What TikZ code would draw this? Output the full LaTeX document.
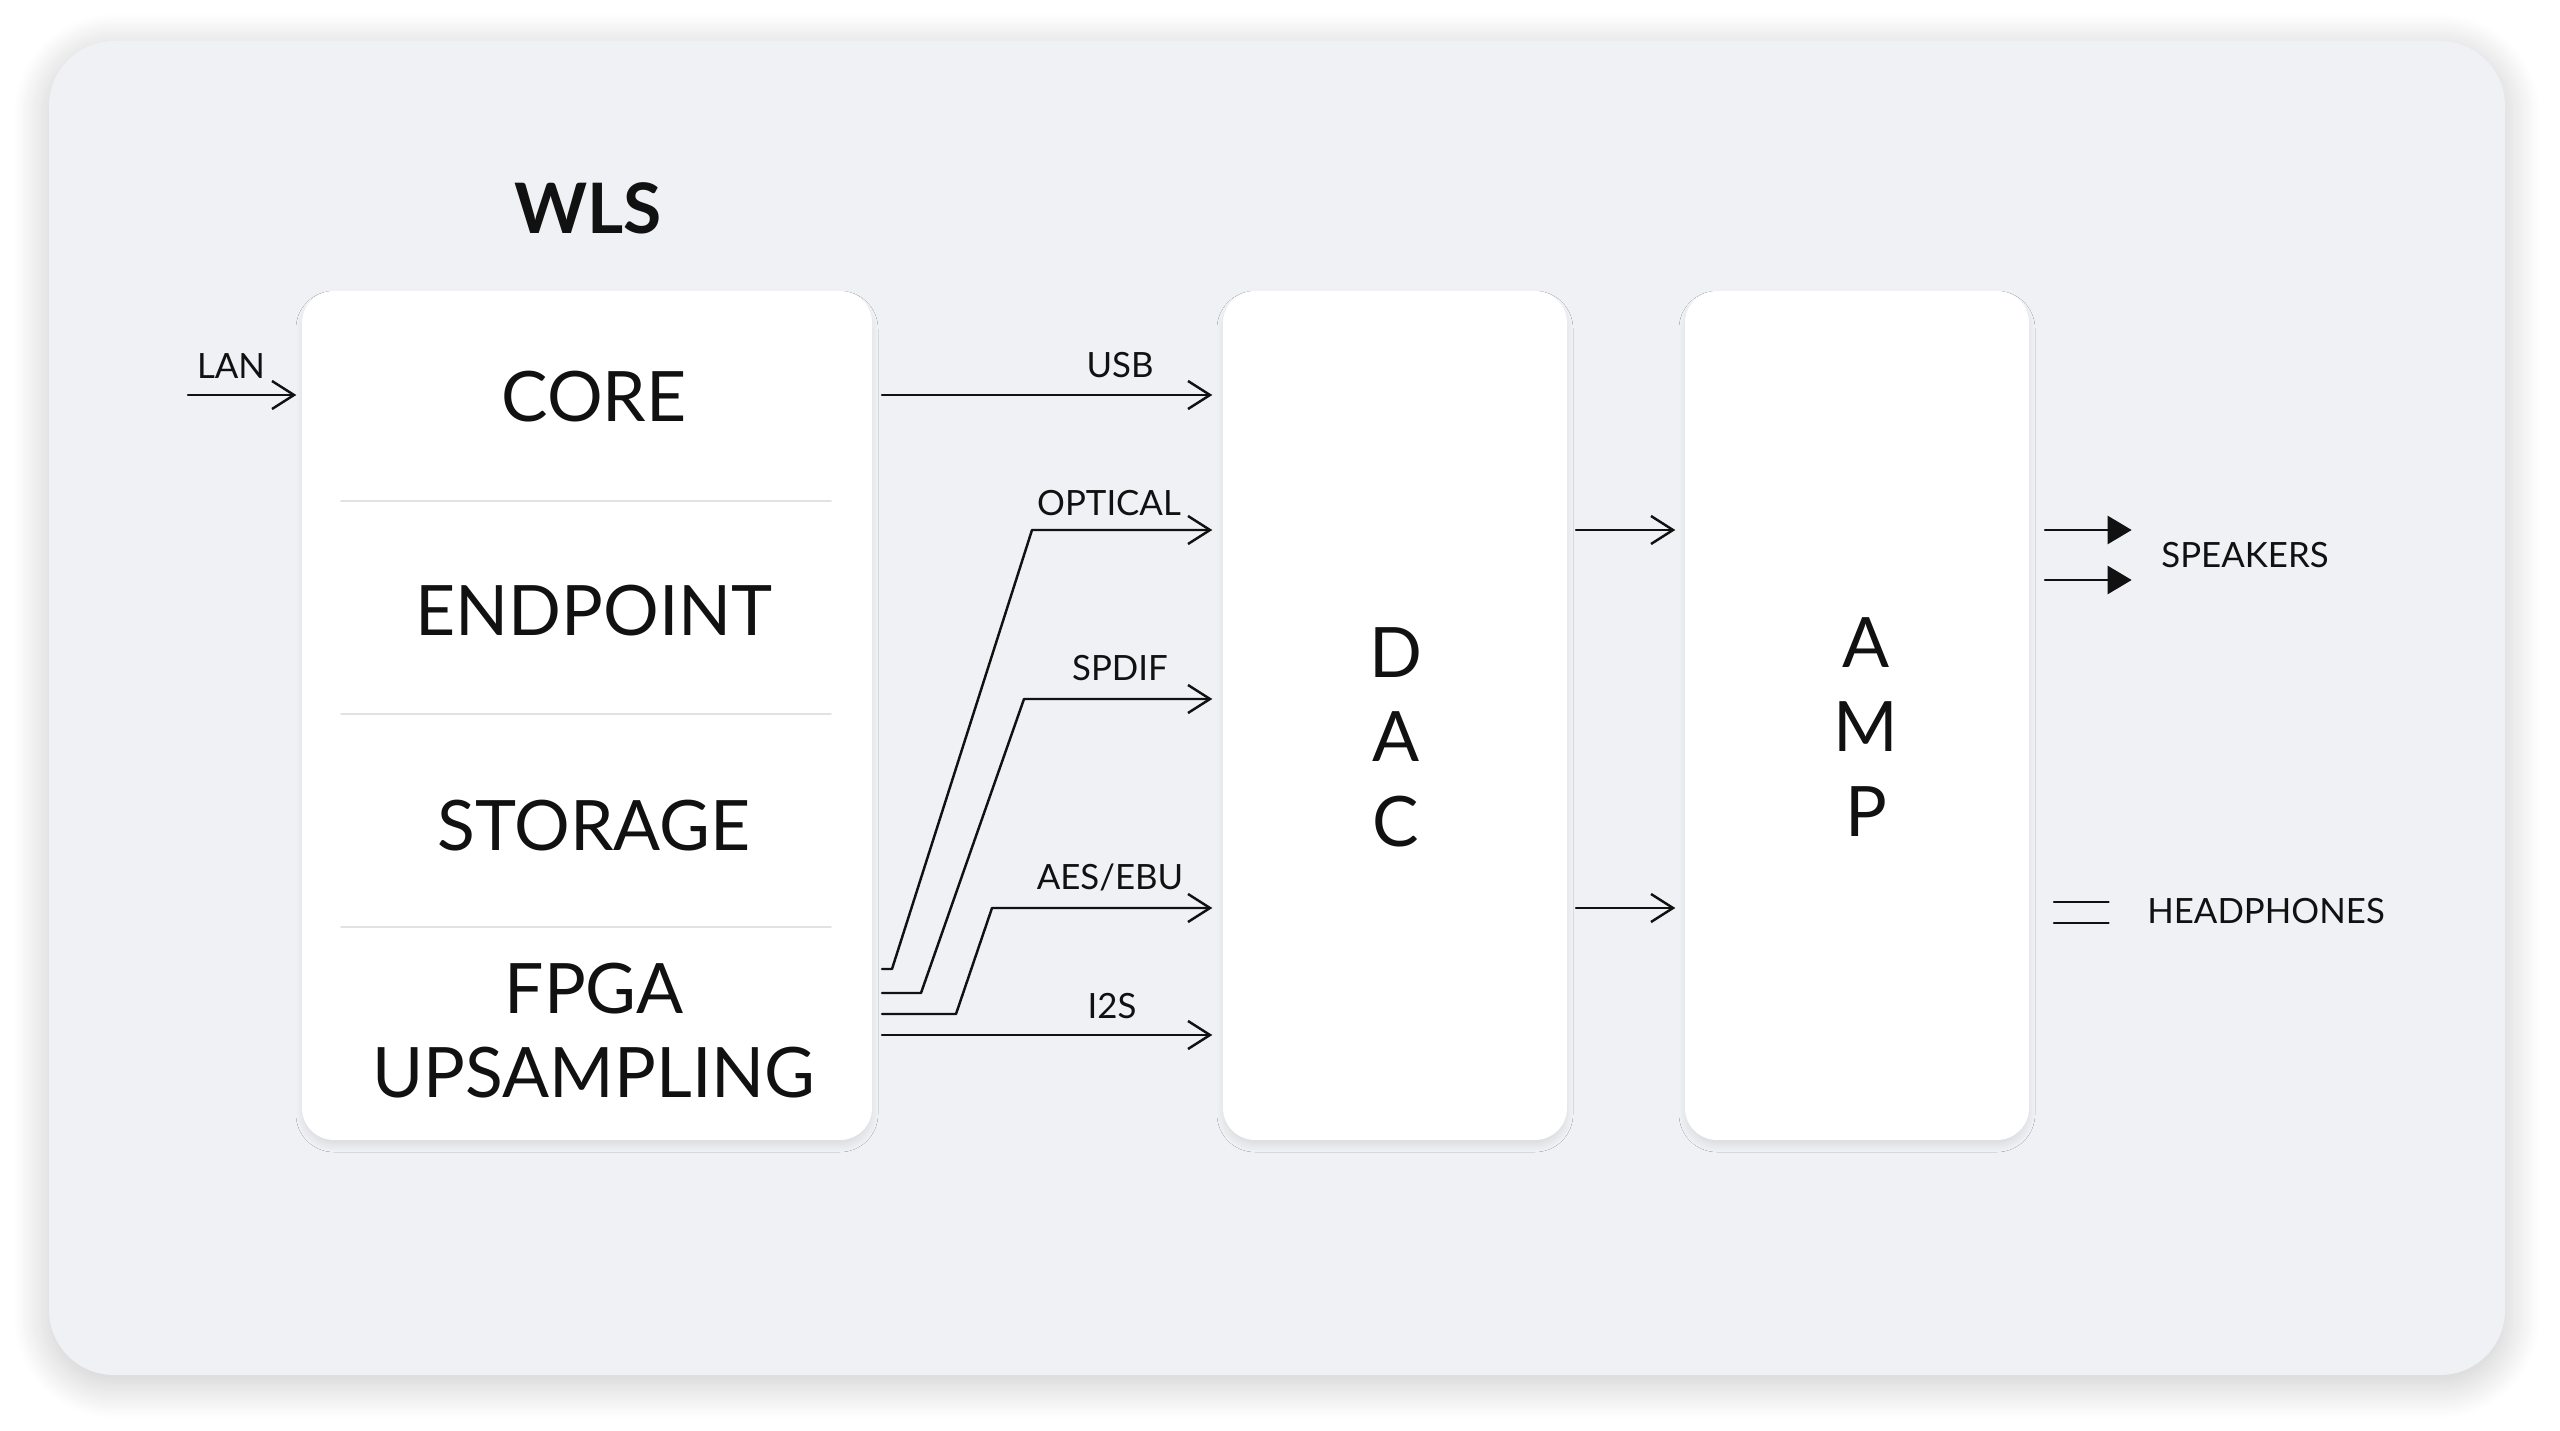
\documentclass[tikz,border=0pt]{standalone}
\usepackage{fontspec}
\setmainfont{Lato}
\usetikzlibrary{arrows.meta,shadows.blur}
\definecolor{panelbg}{HTML}{F0F1F5}
\definecolor{rulegray}{HTML}{E1E2E6}
\definecolor{ink}{HTML}{111111}
\tikzset{
  blk/.style={fill=white, rounded corners=3.2mm, inner sep=0pt, minimum height=84.9mm,
    blur shadow={shadow xshift=0mm, shadow yshift=-0.6mm, shadow blur radius=0.6mm,
      shadow blur steps=12, shadow opacity=8}},
  sig/.style={ink, line width=0.7pt, -{Straight Barb[length=2.2mm,width=2.8mm]}},
  spk/.style={ink, line width=0.7pt, -{Triangle[length=2.4mm,width=2.8mm]}},
  big/.style={ink, font=\fontsize{19.8}{24}\selectfont, align=center, inner sep=0pt},
  lbl/.style={ink, font=\fontsize{9.9}{12}\selectfont, inner sep=0pt, anchor=base},
}
\begin{document}
\begin{tikzpicture}[x=0.1mm, y=-0.1mm, line join=round, line cap=round]
  \useasboundingbox (0,0) rectangle (2560,1431);
  % panel
  \fill[panelbg, rounded corners=6.5mm,
    blur shadow={shadow xshift=0mm, shadow yshift=-0.8mm, shadow blur radius=3.5mm,
      shadow blur steps=24, shadow opacity=22}]
    (49,41) rectangle (2505,1375);

  \node[ink, font=\bfseries\fontsize{19.8}{24}\selectfont, inner sep=0pt] (wlstitle) at (588,208) {WLS};

  % blocks
  \node[blk, minimum width=57mm] (wls) at (587,715.5) {};
  \node[blk, minimum width=34.4mm] (dac) at (1395,715.5) {};
  \node[blk, minimum width=34.4mm] (amp) at (1857,715.5) {};
  \foreach \y in {501,714,927}
    \draw[rulegray, line width=0.5pt] (341,\y) -- (831,\y);

  \node[big] (core) at (594,397) {CORE};
  \node[big] (endpoint) at (594,611) {ENDPOINT};
  \node[big] (storage) at (594,826) {STORAGE};
  \node[big] (fpga) at (594,1030.5) {FPGA\\UPSAMPLING};
  \node[big] (dactxt) at (1396,737) {D\\A\\C};
  \node[big] (amptxt) at (1866,727) {A\\M\\P};

  % inputs and outputs of WLS
  \coordinate (lanin) at (188,395);
  \coordinate (usbout) at (882,395);
  \coordinate (optout) at (882,969);
  \coordinate (spdout) at (882,993);
  \coordinate (aesout) at (882,1014);
  \coordinate (i2sout) at (882,1035);
  \coordinate (optbend) at (1032,530);
  \coordinate (spdbend) at (1024,699);
  \coordinate (aesbend) at (992,908);

  \draw[sig] (lanin) -- ([xshift=-0.5mm]lanin -| wls.west);
  \draw[sig] (usbout) -- ([xshift=-1mm]usbout -| dac.west);
  \draw[sig] (optout) -- ++(10,0) -- (optbend) -- ([xshift=-1mm]optbend -| dac.west);
  \draw[sig] (spdout) -- ++(39,0) -- (spdbend) -- ([xshift=-1mm]spdbend -| dac.west);
  \draw[sig] (aesout) -- ++(74,0) -- (aesbend) -- ([xshift=-1mm]aesbend -| dac.west);
  \draw[sig] (i2sout) -- ([xshift=-1mm]i2sout -| dac.west);

  \node[lbl] (lan) at (231,379) {LAN};
  \node[lbl] (usb) at (1120,378) {USB};
  \node[lbl] (optical) at (1109,516) {OPTICAL};
  \node[lbl] (spdif) at (1120,681) {SPDIF};
  \node[lbl] (aesebu) at (1110,890) {AES/EBU};
  \node[lbl] (i2s) at (1112,1018) {I2S};

  % DAC -> AMP
  \coordinate (dacout1) at (1576,530);
  \coordinate (dacout2) at (1576,908);
  \draw[sig] (dacout1) -- ([xshift=-0.9mm]dacout1 -| amp.west);
  \draw[sig] (dacout2) -- ([xshift=-0.9mm]dacout2 -| amp.west);

  % AMP outputs
  \node[lbl] (speakers) at (2245,568) {SPEAKERS};
  \node[lbl] (headphones) at (2266,924) {HEADPHONES};
  \coordinate (spk1) at (2045,530);
  \coordinate (spk2) at (2045,580);
  \draw[spk] (spk1) -- ([xshift=-2.9mm]spk1 -| speakers.west);
  \draw[spk] (spk2) -- ([xshift=-2.9mm]spk2 -| speakers.west);
  \coordinate (hp1) at (2054,902);
  \coordinate (hp2) at (2054,923);
  \draw[ink, line width=0.7pt] (hp1) -- ([xshift=-3.8mm]hp1 -| headphones.west);
  \draw[ink, line width=0.7pt] (hp2) -- ([xshift=-3.8mm]hp2 -| headphones.west);
\end{tikzpicture}
\end{document}
